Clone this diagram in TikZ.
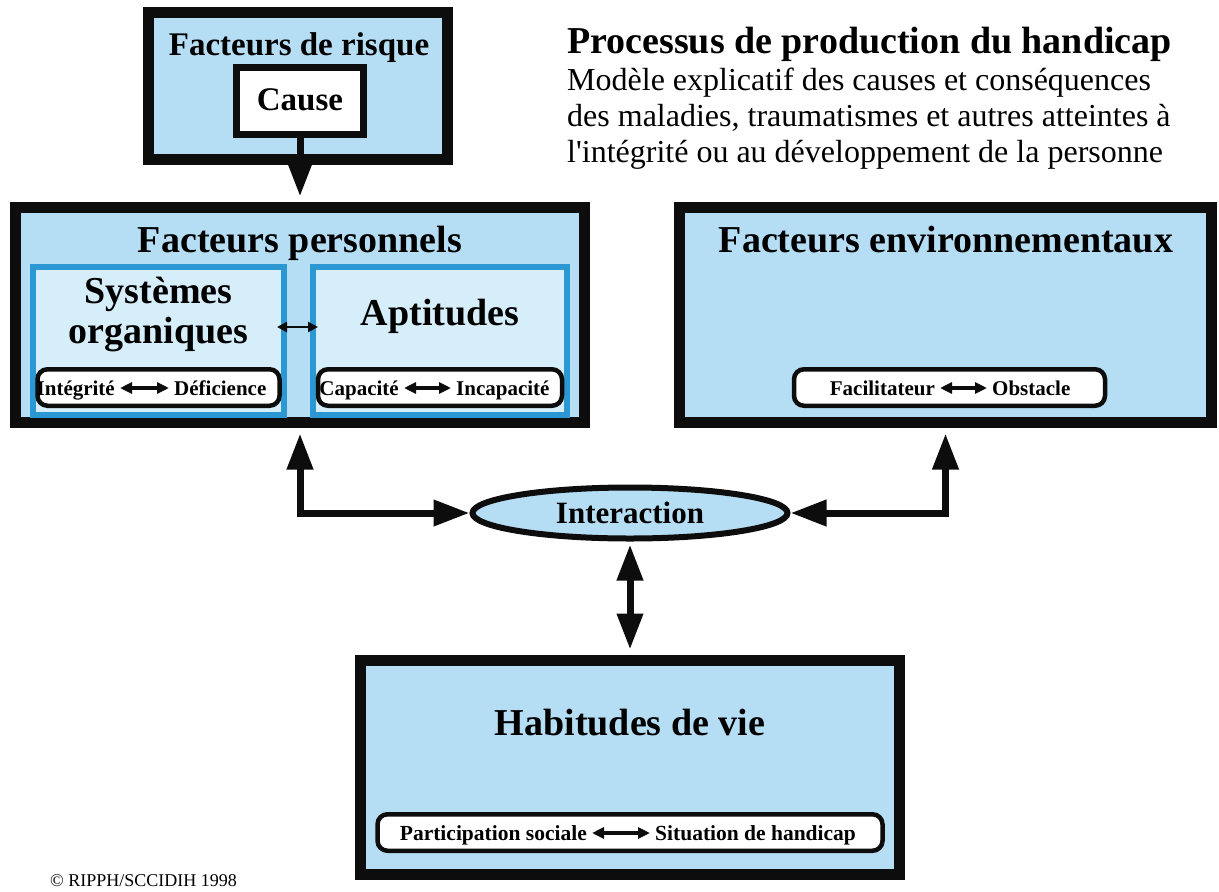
\documentclass[tikz,border=0pt]{standalone}
\usepackage{fontspec}
\setmainfont{Liberation Serif}
\usetikzlibrary{arrows.meta,shapes.geometric,calc}
\definecolor{lblue}{HTML}{B5DEF4}
\definecolor{pblue}{HTML}{D5EEFA}
\definecolor{bblue}{HTML}{2B97D3}
\definecolor{ink}{HTML}{0D0D0D}
\begin{document}
\begin{tikzpicture}[x=1pt,y=-1pt,
  bigbox/.style={draw=ink, line width=11pt, fill=lblue, rectangle, inner sep=0pt},
  subbox/.style={draw=bblue, line width=6pt, fill=pblue, rectangle, inner sep=0pt},
  causebox/.style={draw=ink, line width=7pt, fill=white, rectangle, inner sep=0pt},
  pill/.style={draw=ink, line width=4.5pt, fill=white, rounded corners=10pt, rectangle, inner sep=0pt, minimum height=36.5pt},
  head/.style={font=\fontsize{38}{40}\selectfont\bfseries, inner sep=0pt, anchor=base},
  smallhead/.style={font=\fontsize{33}{35}\selectfont\bfseries, inner sep=0pt, anchor=base},
  ptext/.style={font=\fontsize{21}{23}\selectfont\bfseries, inner sep=0pt},
  subt/.style={font=\fontsize{32}{36}\selectfont, inner sep=0pt, anchor=base west},
  bigtip/.tip={Triangle[length=36pt,width=25pt]},
  bigarrow/.style={draw=ink, line width=7pt, -bigtip},
  bigdarrow/.style={draw=ink, line width=7pt, bigtip-bigtip},
  pillarr/.style={draw=ink, line width=3.2pt, shorten <=5pt, shorten >=5pt,
    {Triangle[length=12pt,width=11pt]}-{Triangle[length=12pt,width=11pt]}},
  minarr/.style={draw=ink, line width=2.6pt,
    {Triangle[length=10pt,width=10pt]}-{Triangle[length=10pt,width=10pt]}}
]
\useasboundingbox (0,0) rectangle (1219,892);

% Title
\node[font=\fontsize{38}{40}\selectfont\bfseries, inner sep=0pt, anchor=base west] (title) at (567,53) {Processus de production du handicap};
\node[subt] (sub1) at (567,90) {Modèle explicatif des causes et conséquences};
\node[subt] (sub2) at (567,126) {des maladies, traumatismes et autres atteintes à};
\node[subt] (sub3) at (567,162) {l\textquotesingle intégrité ou au développement de la personne};

% Facteurs de risque
\node[bigbox, minimum width=299pt, minimum height=147pt] (risk) at (298,86) {};
\node[smallhead] (risklbl) at (299,55) {Facteurs de risque};
\node[causebox, minimum width=127pt, minimum height=67pt] (cause) at (300,101) {};
\node[smallhead] (causelbl) at (300,110) {Cause};

% Facteurs personnels
\node[bigbox, minimum width=569pt, minimum height=215pt] (fp) at (300,315) {};
\node[head] (fplbl) at (300,252) {Facteurs personnels};
\node[subbox, minimum width=251pt, minimum height=148pt] (sys) at (158.5,341) {};
\node[subbox, minimum width=254pt, minimum height=148pt] (apt) at (440,341) {};
\node[head] (syslbl1) at (158.5,303) {Systèmes};
\node[head] (syslbl2) at (158.5,343) {organiques};
\node[head] (aptlbl) at (440,325) {Aptitudes};
\draw[minarr] ($(sys.east)+(-10,-14)$) -- ($(apt.west)+(8,-14)$);

\node[pill, minimum width=242pt] (p1) at (158.5,387.5) {};
\node[ptext, anchor=base east] (p1a) at (115,395) {Intégrité};
\node[ptext, anchor=base west] (p1b) at (174,395) {Déficience};
\draw[pillarr] ([yshift=7pt]p1a.base east) -- ([yshift=7pt]p1b.base west);

\node[pill, minimum width=244pt] (p2) at (440,387.5) {};
\node[ptext, anchor=base east] (p2a) at (399,395) {Capacité};
\node[ptext, anchor=base west] (p2b) at (456,395) {Incapacité};
\draw[pillarr] ([yshift=7pt]p2a.base east) -- ([yshift=7pt]p2b.base west);

% Facteurs environnementaux
\node[bigbox, minimum width=532pt, minimum height=215pt] (fe) at (945.5,315) {};
\node[head] (felbl) at (946,252) {Facteurs environnementaux};
\node[pill, minimum width=311pt] (p3) at (949.5,387.5) {};
\node[ptext, anchor=base east] (p3a) at (935,395) {Facilitateur};
\node[ptext, anchor=base west] (p3b) at (992,395) {Obstacle};
\draw[pillarr] ([yshift=7pt]p3a.base east) -- ([yshift=7pt]p3b.base west);

% Interaction
\node[ellipse, draw=ink, line width=6pt, fill=lblue, minimum width=315pt, minimum height=51pt, inner sep=0pt,
  font=\fontsize{31}{33}\selectfont\bfseries] (inter) at (630,513) {Interaction};

% Habitudes de vie
\node[bigbox, minimum width=539pt, minimum height=214pt] (hab) at (630,767.5) {};
\node[head] (hablbl) at (630,735) {Habitudes de vie};
\node[pill, minimum width=505pt] (p4) at (630,832.5) {};
\node[ptext, font=\fontsize{21.5}{23}\selectfont\bfseries, anchor=base east] (p4a) at (587,840) {Participation sociale};
\node[ptext, font=\fontsize{21.5}{23}\selectfont\bfseries, anchor=base west] (p4b) at (655,840) {Situation de handicap};
\draw[pillarr] ([yshift=7pt]p4a.base east) -- ([yshift=7pt]p4b.base west);

% Connectors
\draw[bigarrow] (cause.south) -- ([yshift=5.5pt]fp.north);
\draw[bigdarrow] ([yshift=-5.5pt]fp.south) |- (inter.west);
\draw[bigdarrow] ([yshift=-5.5pt]fe.south) |- (inter.east);
\draw[bigdarrow] ([yshift=-3pt]inter.south) -- ([yshift=5.5pt]hab.north);

% Copyright
\node[font=\fontsize{18}{20}\selectfont, inner sep=0pt, anchor=base west] (copy) at (50,886) {© RIPPH/SCCIDIH 1998};
\end{tikzpicture}
\end{document}
